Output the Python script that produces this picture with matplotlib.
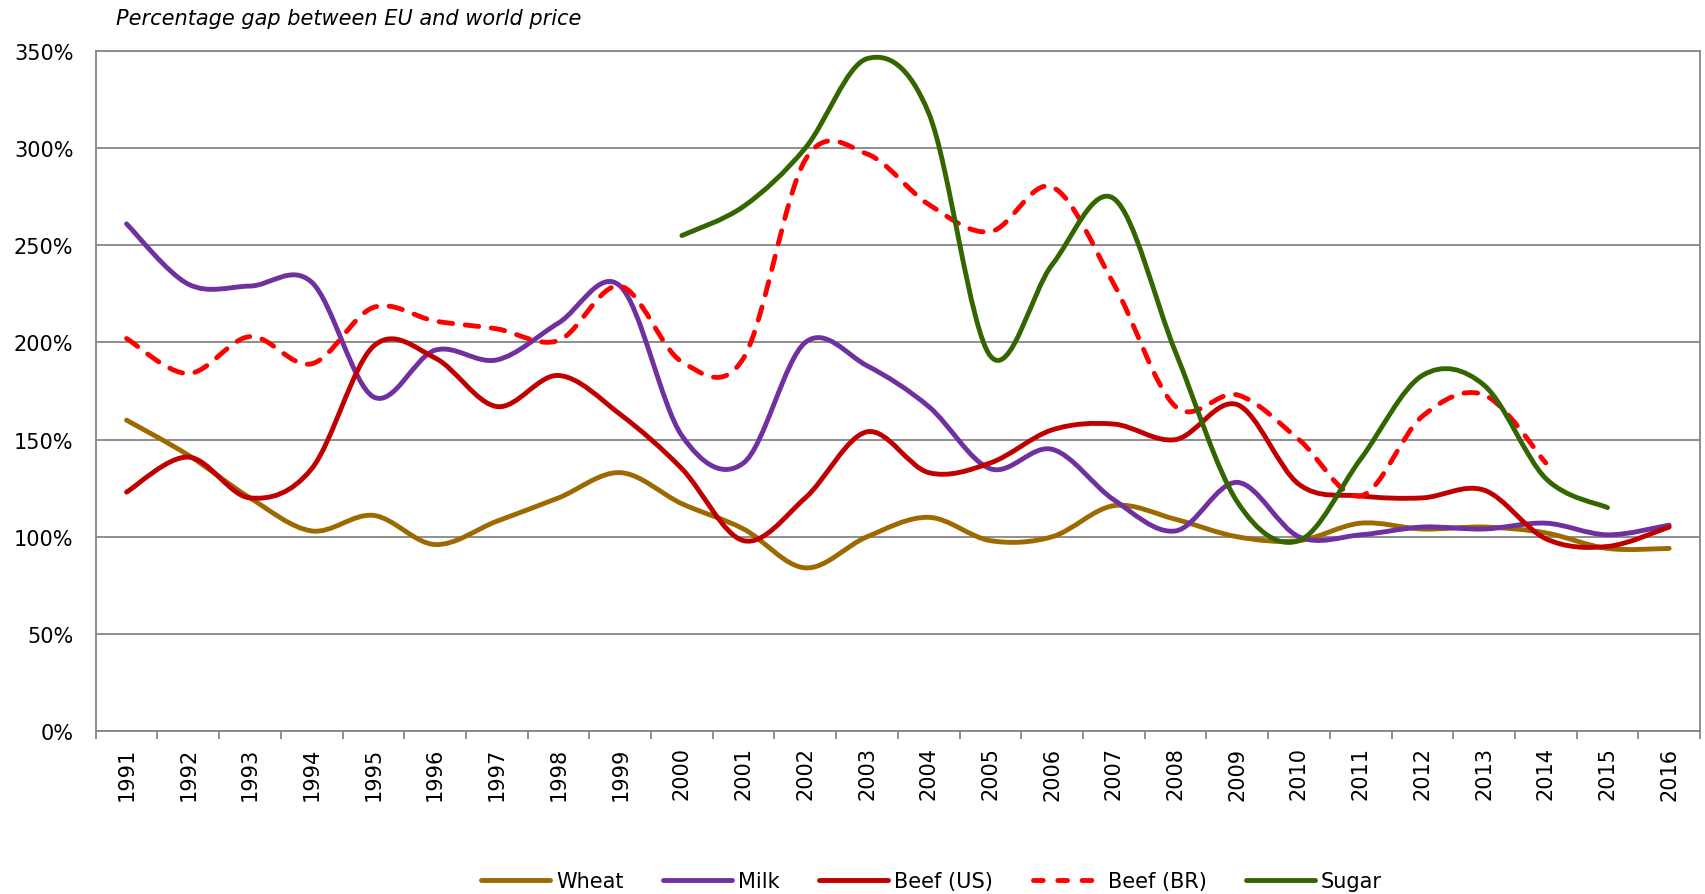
import numpy as np
import matplotlib
matplotlib.use("Agg")
import matplotlib.pyplot as plt
from matplotlib.path import Path
from matplotlib.patches import PathPatch
from matplotlib.lines import Line2D
from matplotlib.ticker import PercentFormatter, FixedLocator

# values, in percent
years = list(range(1991, 2017))
wheat = [160, 142, 120, 103, 111, 96, 108, 120, 133, 117, 104, 84, 100, 110, 98, 100,
         116, 109, 100, 98, 107, 104, 105, 102, 94, 94]
milk = [261, 230, 229, 231, 172, 196, 191, 210, 229, 152, 138, 200, 188, 167, 135, 145,
        119, 103, 128, 100, 101, 105, 104, 107, 101, 106]
beef_us = [123, 141, 120, 135, 198, 192, 167, 183, 163, 135, 98, 120, 154, 133, 138, 155,
           158, 150, 168, 127, 121, 120, 124, 99, 95, 105]
beef_br_years = list(range(1991, 2015))
beef_br = [202, 184, 203, 189, 218, 211, 207, 201, 229, 190, 192, 294, 297, 271, 257, 280,
           230, 167, 173, 150, 121, 162, 173, 138]
sugar_years = list(range(2000, 2016))
sugar = [255, 270, 300, 346, 318, 193, 240, 274, 195, 118, 98, 140, 183, 178, 130, 115]

GRID = "#868686"
LW = 3.5
FS = 15


def smooth_path(xs, ys):
    """
        Smoothed line like the spreadsheet one: a cubic Bezier between each pair of points
    """
    pts = np.column_stack([xs, ys]).astype(float)
    n = len(pts)
    verts = [pts[0]]
    codes = [Path.MOVETO]
    for i in range(n - 1):
        p0 = pts[i - 1] if i > 0 else pts[i]
        p1 = pts[i]
        p2 = pts[i + 1]
        p3 = pts[i + 2] if i + 2 < n else pts[i + 1]
        verts += [p1 + (p2 - p0) / 6, p2 - (p3 - p1) / 6, p2]
        codes += [Path.CURVE4] * 3
    return Path(verts, codes)


def add_series(ax, yrs, vals, color, dashed=False):
    xs = [years.index(y) for y in yrs]
    ys = [v / 100 for v in vals]
    patch = PathPatch(smooth_path(xs, ys), fill=False, edgecolor=color, lw=LW,
                      linestyle=(0, (2.8, 2.6)) if dashed else "-")
    patch.set_capstyle("round")
    patch.set_joinstyle("round")
    ax.add_patch(patch)


fig = plt.figure(figsize=(17.06, 8.95), dpi=100)
ax = fig.add_axes([0.0561, 0.182, 0.9404, 0.760])

ax.set_xlim(-0.5, len(years) - 0.5)
ax.set_ylim(0, 3.5)
ax.set_yticks(np.arange(0, 3.51, 0.5))
ax.yaxis.set_major_formatter(PercentFormatter(xmax=1, decimals=0))
ax.grid(axis="y", color=GRID, lw=1.3)
ax.set_axisbelow(True)
for s in ax.spines.values():
    s.set_color(GRID)
    s.set_linewidth(1.3)

ax.set_xticks(range(len(years)))
ax.set_xticklabels([str(y) for y in years], rotation=90, fontsize=FS)
ax.xaxis.set_minor_locator(FixedLocator(np.arange(-0.5, len(years), 1)))
ax.tick_params(axis="x", which="major", length=0, pad=11)
ax.tick_params(axis="x", which="minor", length=6, width=1.3, color=GRID)
ax.tick_params(axis="y", length=0, pad=16, labelsize=FS)

add_series(ax, years, wheat, "#9C6A00")
add_series(ax, years, milk, "#7030A0")
add_series(ax, years, beef_us, "#C00000")
add_series(ax, beef_br_years, beef_br, "#FF0000", dashed=True)
add_series(ax, sugar_years, sugar, "#336600")

fig.text(0.068, 0.979, "Percentage gap between EU and world price", fontsize=FS,
         style="italic", va="center", ha="left")

handles = [
    Line2D([], [], color="#9C6A00", lw=LW, solid_capstyle="round"),
    Line2D([], [], color="#7030A0", lw=LW, solid_capstyle="round"),
    Line2D([], [], color="#C00000", lw=LW, solid_capstyle="round"),
    Line2D([], [], color="#FF0000", lw=LW, linestyle=(0, (2.0, 3.0)), dash_capstyle="round"),
    Line2D([], [], color="#336600", lw=LW, solid_capstyle="round"),
]
labels = ["Wheat", "Milk", "Beef (US)", "Beef (BR)", "Sugar"]
fig.legend(handles, labels, loc="center", bbox_to_anchor=(0.546, 0.0145), ncol=5,
           frameon=False, fontsize=FS, handlelength=3.3, handletextpad=0.3,
           columnspacing=1.9)

fig.savefig("out.png", dpi=100)
